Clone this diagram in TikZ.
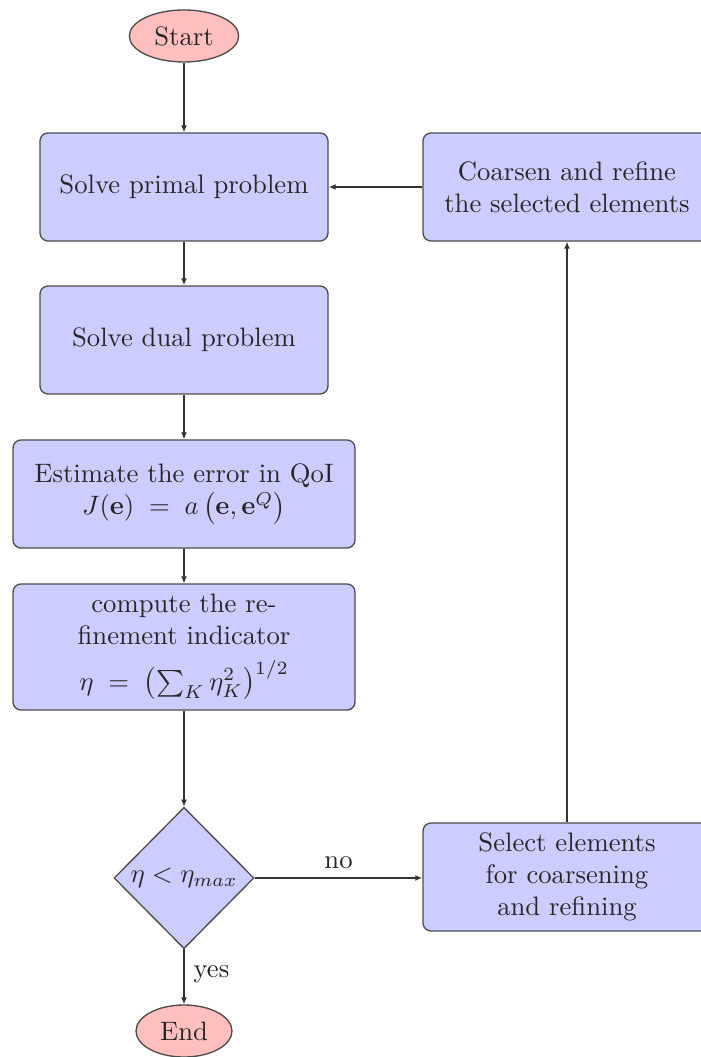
\documentclass[tikz,border=0pt]{standalone}
\usetikzlibrary{shapes.geometric,arrows.meta}
\begin{document}
\begin{tikzpicture}[x=0.375pt,y=-0.375pt,
  every node/.style={font=\fontsize{10}{12}\selectfont, text=black!85},
  block/.style={rectangle, rounded corners=3pt, draw=black!70, line width=0.5pt,
    fill=blue!20, align=center, minimum width=108pt, minimum height=40.5pt, inner sep=2pt},
  wideblock/.style={block, minimum width=128.25pt},
  terminal/.style={ellipse, draw=black!70, line width=0.5pt, fill=red!25,
    minimum width=41pt, minimum height=19.5pt, inner sep=1pt},
  decision/.style={diamond, draw=black!70, line width=0.5pt, fill=blue!20,
    minimum width=52.5pt, minimum height=53pt, inner sep=0pt, aspect=1},
  flow/.style={draw=black!80, line width=0.5pt, -{Latex[length=2.6pt,width=2.2pt]}}
]
\clip (0,0) rectangle (701,1057);
\fill[white] (0,0) rectangle (701,1057);

% main column
\node[terminal] (start) at (184,36) {Start};
\node[block] (primal) at (184,187) {Solve primal problem};
\node[block] (dual) at (184,340) {Solve dual problem};
\node[wideblock] (estimate) at (184,494)
  {Estimate the error in QoI\\$J(\mathbf{e}) \;=\; a\left(\mathbf{e},\mathbf{e}^Q\right)$};
\node[wideblock, minimum height=47.25pt] (compute) at (184,647)
  {compute the re-\\finement indicator\\[5pt]$\eta \;=\; \left(\sum_K \eta_K^2\right)^{1/2}$};
\node[decision] (check) at (184,878) {$\eta < \eta_{max}$};
\node[terminal, minimum width=36pt] (stop) at (184,1031) {End};

% refinement loop
\node[block] (coarsen) at (567,187) {Coarsen and refine\\the selected elements};
\node[block] (select) at (567,877) {Select elements\\for coarsening\\and refining};

\draw[flow] (start) -- (primal);
\draw[flow] (primal) -- (dual);
\draw[flow] (dual) -- (estimate);
\draw[flow] (estimate) -- (compute);
\draw[flow] (compute) -- (check);
\draw[flow] (check.east) -- node[above] {no} (check.east -| select.west);
\draw[flow] (check) -- node[right, pos=0.45] {yes} (stop);
\draw[flow] (select) -- (coarsen);
\draw[flow] (coarsen) -- (primal);
\end{tikzpicture}
\end{document}
